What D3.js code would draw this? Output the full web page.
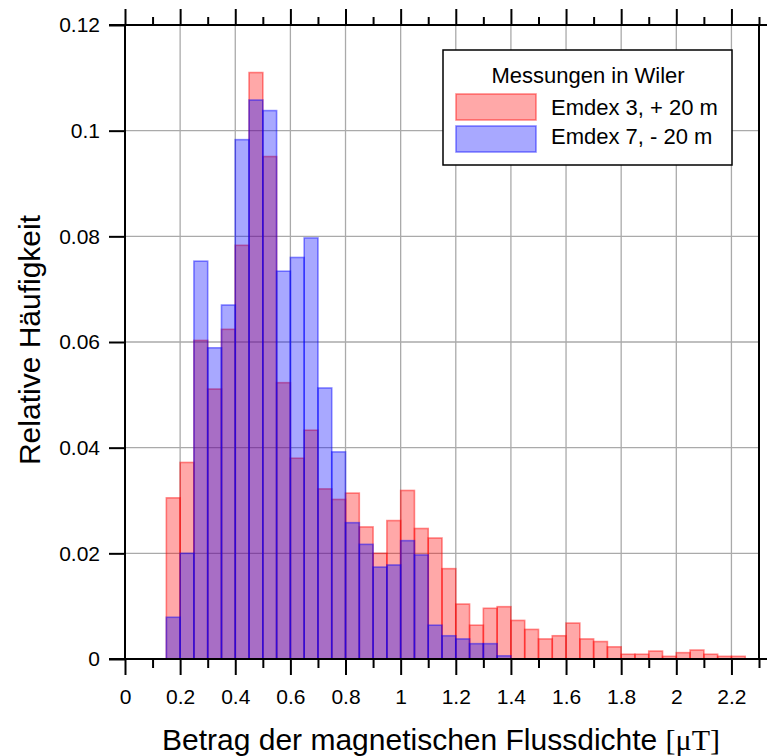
<!DOCTYPE html>
<html lang="de">
<head>
    <meta charset="UTF-8">
    <title>Relative Häufigkeit</title>
    <script src="https://cdnjs.cloudflare.com/ajax/libs/d3/7.8.5/d3.min.js"></script>
    <style>
        body { margin: 0; background: #fff; }
        svg { display: block; font-family: "Liberation Sans", Arial, sans-serif; }
        .grid line { stroke: #aaaaaa; stroke-width: 1.3; }
        .axis path { display: none; }
        .axis line { stroke: #000; stroke-width: 2; }
        .axis text { font-size: 21px; fill: #000; }
        .frame { stroke: #000; stroke-width: 2; }
    </style>
</head>
<body>
<svg id="chart" width="767" height="756"></svg>
<script>
    // lower edges of the 0.05-wide bins
    const binStarts = [0.15, 0.20, 0.25, 0.30, 0.35, 0.40, 0.45, 0.50, 0.55, 0.60,
        0.65, 0.70, 0.75, 0.80, 0.85, 0.90, 0.95, 1.00, 1.05, 1.10,
        1.15, 1.20, 1.25, 1.30, 1.35, 1.40, 1.45, 1.50, 1.55, 1.60,
        1.65, 1.70, 1.75, 1.80, 1.85, 1.90, 1.95, 2.00, 2.05, 2.10,
        2.15, 2.20];
    const binWidth = 0.05;

    // Emdex 3, + 20 m
    const emdex3 = [0.0305, 0.0372, 0.0603, 0.0511, 0.0624, 0.0783, 0.1110, 0.0951, 0.0523, 0.0380,
        0.0433, 0.0322, 0.0302, 0.0314, 0.0250, 0.0200, 0.0262, 0.0319, 0.0247, 0.0229,
        0.0171, 0.0104, 0.0064, 0.0096, 0.0099, 0.0073, 0.0056, 0.0038, 0.0044, 0.0068,
        0.0038, 0.0033, 0.0023, 0.0009, 0.0009, 0.0015, 0.0005, 0.0012, 0.0017, 0.0009,
        0.0005, 0.0005];

    // Emdex 7, - 20 m
    const emdex7 = [0.0079, 0.0200, 0.0753, 0.0589, 0.0670, 0.0983, 0.1058, 0.1038, 0.0734, 0.0760,
        0.0797, 0.0513, 0.0392, 0.0258, 0.0217, 0.0174, 0.0178, 0.0224, 0.0197, 0.0064,
        0.0044, 0.0038, 0.0029, 0.0029, 0.0006];

    const xMajor = [0, 0.2, 0.4, 0.6, 0.8, 1, 1.2, 1.4, 1.6, 1.8, 2, 2.2];
    const xMinor = [0.1, 0.3, 0.5, 0.7, 0.9, 1.1, 1.3, 1.5, 1.7, 1.9, 2.1, 2.3];
    const yTicks = [0, 0.02, 0.04, 0.06, 0.08, 0.1, 0.12];

    const legendTitle = "Messungen in Wiler";
    const seriesNames = ["Emdex 3, + 20 m", "Emdex 7, - 20 m"];

    const svg = d3.select("#chart");

    const x = d3.scaleLinear().domain([0, 2.3]).range([125, 759]);
    const y = d3.scaleLinear().domain([0, 0.12]).range([659, 25]);

    // grid
    const grid = svg.append("g").attr("class", "grid");
    grid.selectAll("line.v")
        .data(xMajor.filter(d => d > 0))
        .enter().append("line")
        .attr("x1", d => x(d)).attr("x2", d => x(d))
        .attr("y1", y(0.12)).attr("y2", y(0));
    grid.selectAll("line.h")
        .data(yTicks.filter(d => d > 0 && d < 0.12))
        .enter().append("line")
        .attr("x1", x(0)).attr("x2", x(2.3))
        .attr("y1", d => y(d)).attr("y2", d => y(d));

    // bars: red first, blue drawn over it
    function drawBars(values, fill, stroke) {
        svg.append("g").selectAll("rect")
            .data(values)
            .enter().append("rect")
            .attr("x", (d, i) => x(binStarts[i]))
            .attr("width", x(binWidth) - x(0))
            .attr("y", d => y(d))
            .attr("height", d => y(0) - y(d))
            .attr("fill", fill)
            .attr("stroke", stroke)
            .attr("stroke-width", 1.6);
    }

    drawBars(emdex3, "rgba(255,0,0,0.34)", "rgba(255,0,0,0.45)");
    drawBars(emdex7, "rgba(0,0,255,0.34)", "rgba(0,0,255,0.45)");

    // axes
    svg.append("g").attr("class", "axis")
        .attr("transform", `translate(0,${y(0)})`)
        .call(d3.axisBottom(x).tickValues(xMajor).tickSize(16).tickPadding(14)
            .tickFormat(d3.format("~g")));
    svg.append("g").attr("class", "axis")
        .attr("transform", `translate(0,${y(0)})`)
        .call(d3.axisBottom(x).tickValues(xMinor).tickSize(9).tickFormat(""));
    svg.append("g").attr("class", "axis")
        .attr("transform", `translate(0,${y(0.12)})`)
        .call(d3.axisTop(x).tickValues(xMajor).tickSize(16).tickFormat(""));
    svg.append("g").attr("class", "axis")
        .attr("transform", `translate(0,${y(0.12)})`)
        .call(d3.axisTop(x).tickValues(xMinor).tickSize(8).tickFormat(""));
    svg.append("g").attr("class", "axis")
        .attr("transform", `translate(${x(0)},0)`)
        .call(d3.axisLeft(y).tickValues(yTicks).tickSize(16).tickPadding(9)
            .tickFormat(d3.format("~g")));

    // frame lines
    svg.append("line").attr("class", "frame")
        .attr("x1", 109).attr("x2", 767).attr("y1", y(0)).attr("y2", y(0));
    svg.append("line").attr("class", "frame")
        .attr("x1", 109).attr("x2", 767).attr("y1", y(0.12)).attr("y2", y(0.12));
    svg.append("line").attr("class", "frame")
        .attr("x1", x(0)).attr("x2", x(0)).attr("y1", y(0.12)).attr("y2", y(0));
    svg.append("line").attr("class", "frame")
        .attr("x1", x(2.3)).attr("x2", x(2.3)).attr("y1", y(0.12)).attr("y2", y(0));

    // axis titles
    const xTitle = svg.append("text")
        .attr("x", 441).attr("y", 750)
        .attr("text-anchor", "middle")
        .attr("font-size", 30)
        .text("Betrag der magnetischen Flussdichte ");
    xTitle.append("tspan")
        .attr("font-family", "'Liberation Serif', 'Times New Roman', serif")
        .text("[μT]");

    svg.append("text")
        .attr("transform", "translate(40,340) rotate(-90)")
        .attr("text-anchor", "middle")
        .attr("font-size", 30)
        .text("Relative Häufigkeit");

    // legend
    const legend = svg.append("g");
    legend.append("rect")
        .attr("x", 443).attr("y", 50).attr("width", 289).attr("height", 115)
        .attr("fill", "#fff").attr("stroke", "#000").attr("stroke-width", 1.5);
    legend.append("text")
        .attr("x", 588).attr("y", 83)
        .attr("text-anchor", "middle").attr("font-size", 22)
        .text(legendTitle);
    const legendFills = [["rgba(255,0,0,0.34)", "rgba(255,0,0,0.45)"], ["rgba(0,0,255,0.34)", "rgba(0,0,255,0.45)"]];
    seriesNames.forEach((name, i) => {
        legend.append("rect")
            .attr("x", 456).attr("y", 94 + i * 32).attr("width", 80).attr("height", 26)
            .attr("fill", legendFills[i][0]).attr("stroke", legendFills[i][1]).attr("stroke-width", 1.6);
        legend.append("text")
            .attr("x", 551).attr("y", 115 + i * 29)
            .attr("font-size", 22)
            .text(name);
    });
</script>
</body>
</html>
